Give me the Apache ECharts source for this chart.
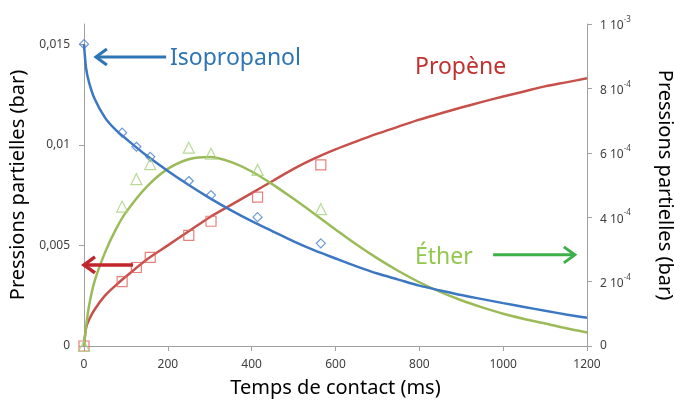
<!DOCTYPE html>
<html>
<head>
<meta charset="utf-8">
<script src="https://cdn.jsdelivr.net/npm/echarts@6/dist/echarts.min.js"></script>
<style>
  html, body { margin: 0; padding: 0; background: #fff; }
  #chart { width: 674px; height: 403px; }
</style>
</head>
<body>
<div id="chart"></div>
<script>
// ---- Data ----
const expTimes = [0, 91, 125, 158, 250, 303, 414, 565];
const isoExp   = [0.0150, 0.0106, 0.0099, 0.0094, 0.0082, 0.0075, 0.0064, 0.0051];
const propExp  = [0, 0.0032, 0.0039, 0.0044, 0.0055, 0.0062, 0.0074, 0.0090];
const etherExp = [0, 4.33e-4, 5.18e-4, 5.65e-4, 6.16e-4, 5.97e-4, 5.47e-4, 4.25e-4];

// fitted curves
const fitT = [0, 5, 12, 25, 50, 75, 100, 150, 200, 250, 300, 350, 400, 450, 500, 550, 600,
              650, 700, 750, 800, 850, 900, 950, 1000, 1050, 1100, 1150, 1200];
const isoFitV = [0.0150, 0.0138, 0.0131, 0.0123, 0.01135, 0.01075, 0.0103, 0.00945, 0.0087, 0.0080, 0.00735,
                 0.00675, 0.0062, 0.0057, 0.0052, 0.00475, 0.00435, 0.00396, 0.0036, 0.0033, 0.0030,
                 0.00276, 0.00253, 0.00233, 0.00213, 0.00194, 0.00175, 0.00157, 0.0014];
const propFitV = [0, 0.0009, 0.0013, 0.0018, 0.0025, 0.0030, 0.00345, 0.0043, 0.0050, 0.0057, 0.0064,
                  0.0070, 0.0076, 0.0082, 0.0088, 0.00932, 0.00977, 0.01017, 0.01055, 0.0109, 0.01125,
                  0.01155, 0.01185, 0.01213, 0.0124, 0.01265, 0.0129, 0.0131, 0.0133];
const etherFitV = [0, 0.6e-4, 1.25e-4, 2.0e-4, 2.9e-4, 3.6e-4, 4.15e-4, 4.95e-4, 5.5e-4, 5.8e-4, 5.87e-4,
                   5.72e-4, 5.42e-4, 5.02e-4, 4.57e-4, 4.1e-4, 3.62e-4, 3.15e-4, 2.72e-4, 2.33e-4, 1.98e-4,
                   1.68e-4, 1.42e-4, 1.2e-4, 1.0e-4, 0.84e-4, 0.7e-4, 0.55e-4, 0.42e-4];

const xTicks = [0, 200, 400, 600, 800, 1000, 1200];
const leftTicks = [0, 0.005, 0.01, 0.015];
const rightTicks = [0, 2e-4, 4e-4, 6e-4, 8e-4, 1e-3];

const seriesNames = ['Isopropanol', 'Propène', 'Éther'];

// ---- Styles ----
const FONT = 'Noto Sans';
const C = {
  isoLine: '#3B77C3', isoMark: '#4A7FCB', isoText: '#2E75B6',
  propLine: '#C8504B', propMark: '#E0605A', propText: '#C0322F', propArrow: '#C0262B',
  ethLine: '#9BBB59', ethMark: '#A8CF7E', ethText: '#92C84E', ethArrow: '#3DB049',
  axis: '#A0A0A0', label: '#404040'
};

const zip = (a, b) => a.map((v, i) => [v, b[i]]);

const chart = echarts.init(document.getElementById('chart'), null, { renderer: 'canvas' });

function fmtLeft(v) {
  if (v === 0) return '0';
  const r = Math.round(v * 1000) / 1000;
  return String(r).replace('.', ',');
}
function fmtRight(v) {
  if (v === 0) return '0';
  const e = Math.floor(Math.log10(v) + 1e-9);
  const m = Math.round(v / Math.pow(10, e));
  return '{a|' + m + ' 10}{s|' + e + '}';
}

const option = {
  animation: false,
  backgroundColor: '#fff',
  textStyle: { fontFamily: FONT },
  grid: { left: 84, right: 87, top: 24, bottom: 57, outerBoundsMode: 'none', containLabel: false },
  xAxis: {
    type: 'value', min: 0, max: 1200, interval: 200,
    name: 'Temps de contact (ms)', nameLocation: 'middle', nameGap: 32,
    nameTextStyle: { fontSize: 20, color: '#000', fontFamily: FONT },
    axisLine: { show: true, lineStyle: { color: C.axis, width: 1 } },
    axisTick: { show: true, length: 5, lineStyle: { color: C.axis } },
    axisLabel: { fontSize: 12, color: C.label, margin: 13, fontFamily: FONT,
      customValues: xTicks, formatter: v => String(v) },
    splitLine: { show: false }
  },
  yAxis: [
    {
      type: 'value', min: 0, max: 0.016, position: 'left',
      name: 'Pressions partielles (bar)', nameLocation: 'middle', nameGap: 47, nameRotate: 90,
      nameTextStyle: { fontSize: 20, color: '#000', fontFamily: FONT },
      axisLine: { show: true, lineStyle: { color: C.axis, width: 1 } },
      axisTick: { show: true, length: 5, lineStyle: { color: C.axis }, customValues: leftTicks },
      axisLabel: { fontSize: 12, color: C.label, margin: 14, fontFamily: FONT,
        customValues: leftTicks, formatter: fmtLeft },
      splitLine: { show: false }
    },
    {
      type: 'value', min: 0, max: 0.001, position: 'right',
      name: 'Pressions partielles (bar)', nameLocation: 'middle', nameGap: 68, nameRotate: -90,
      nameTextStyle: { fontSize: 20, color: '#000', fontFamily: FONT },
      axisLine: { show: true, lineStyle: { color: C.axis, width: 1 } },
      axisTick: { show: true, length: 5, lineStyle: { color: C.axis }, customValues: rightTicks },
      axisLabel: { fontSize: 12, color: C.label, margin: 13, fontFamily: FONT,
        customValues: rightTicks, formatter: fmtRight,
        rich: {
          a: { fontSize: 12, color: C.label, fontFamily: FONT, lineHeight: 16, verticalAlign: 'bottom' },
          s: { fontSize: 8, color: C.label, fontFamily: FONT, lineHeight: 16, verticalAlign: 'top' }
        } },
      splitLine: { show: false }
    }
  ],
  series: [
    { name: seriesNames[1] + ' fit', type: 'line', yAxisIndex: 0, data: zip(fitT, propFitV),
      showSymbol: false, smooth: 0.3,
      lineStyle: { color: C.propLine, width: 2.5 }, itemStyle: { color: C.propLine }, z: 2 },
    { name: seriesNames[2] + ' fit', type: 'line', yAxisIndex: 1, data: zip(fitT, etherFitV),
      showSymbol: false, smooth: 0.3,
      lineStyle: { color: C.ethLine, width: 2.5 }, itemStyle: { color: C.ethLine }, z: 2 },
    { name: seriesNames[0] + ' fit', type: 'line', yAxisIndex: 0, data: zip(fitT, isoFitV),
      showSymbol: false, smooth: 0.3,
      lineStyle: { color: C.isoLine, width: 2.5 }, itemStyle: { color: C.isoLine }, z: 2 },
    { name: seriesNames[0], type: 'scatter', yAxisIndex: 0, data: zip(expTimes, isoExp),
      symbol: 'diamond', symbolSize: 9,
      itemStyle: { color: 'rgba(255,255,255,0)', borderColor: C.isoMark, borderWidth: 1.2 }, z: 3 },
    { name: seriesNames[1], type: 'scatter', yAxisIndex: 0, data: zip(expTimes, propExp),
      symbol: 'rect', symbolSize: 10,
      itemStyle: { color: 'rgba(255,255,255,0)', borderColor: C.propMark, borderWidth: 1.2 }, z: 3 },
    { name: seriesNames[2], type: 'scatter', yAxisIndex: 1, data: zip(expTimes, etherExp),
      symbol: 'triangle', symbolSize: 11,
      itemStyle: { color: 'rgba(255,255,255,0)', borderColor: C.ethMark, borderWidth: 1.2 }, z: 3 }
  ]
};
chart.setOption(option);

// ---- Annotations (arrows and labels) ----
function px(t, v, yIdx) {
  return chart.convertToPixel({ xAxisIndex: 0, yAxisIndex: yIdx }, [t, v]);
}
function arrow(from, to, color, width) {
  const dx = to[0] - from[0], dy = to[1] - from[1];
  const len = Math.sqrt(dx * dx + dy * dy);
  const ux = dx / len, uy = dy / len;
  const hl = 11, hw = 8;
  const b1 = [to[0] - ux * hl - uy * hw, to[1] - uy * hl + ux * hw];
  const b2 = [to[0] - ux * hl + uy * hw, to[1] - uy * hl - ux * hw];
  return [
    { type: 'line', shape: { x1: from[0], y1: from[1], x2: to[0] - ux * 1, y2: to[1] - uy * 1 },
      style: { stroke: color, lineWidth: width }, z: 10 },
    { type: 'polyline', shape: { points: [b1, to, b2] },
      style: { stroke: color, lineWidth: width, fill: null, lineJoin: 'miter' }, z: 10 }
  ];
}

const isoA = [px(196, 0.01436, 0), px(14, 0.01436, 0)];
const propA = [px(117, 0.00403, 0), px(0, 0.00403, 0)];
const ethA = [px(976, 2.83e-4, 1), px(1171, 2.83e-4, 1)];

const graphics = []
  .concat(arrow(isoA[0], [isoA[1][0] + 6, isoA[1][1]], C.isoText, 3))
  .concat(arrow(propA[0], [propA[1][0], propA[1][1]], C.propArrow, 3.5))
  .concat(arrow(ethA[0], ethA[1], C.ethArrow, 3))
  .concat([
    { type: 'text', x: 170, y: 58, z: 10,
      style: { text: seriesNames[0], fill: C.isoText, font: '23px "Noto Sans"', textVerticalAlign: 'middle', textAlign: 'left' } },
    { type: 'text', x: 415, y: 67, z: 10,
      style: { text: seriesNames[1], fill: C.propText, font: '23px "Noto Sans"', textVerticalAlign: 'middle', textAlign: 'left' } },
    { type: 'text', x: 415, y: 257, z: 10,
      style: { text: seriesNames[2], fill: C.ethText, font: '23px "Noto Sans"', textVerticalAlign: 'middle', textAlign: 'left' } }
  ]);

chart.setOption({ graphic: graphics });
</script>
</body>
</html>
